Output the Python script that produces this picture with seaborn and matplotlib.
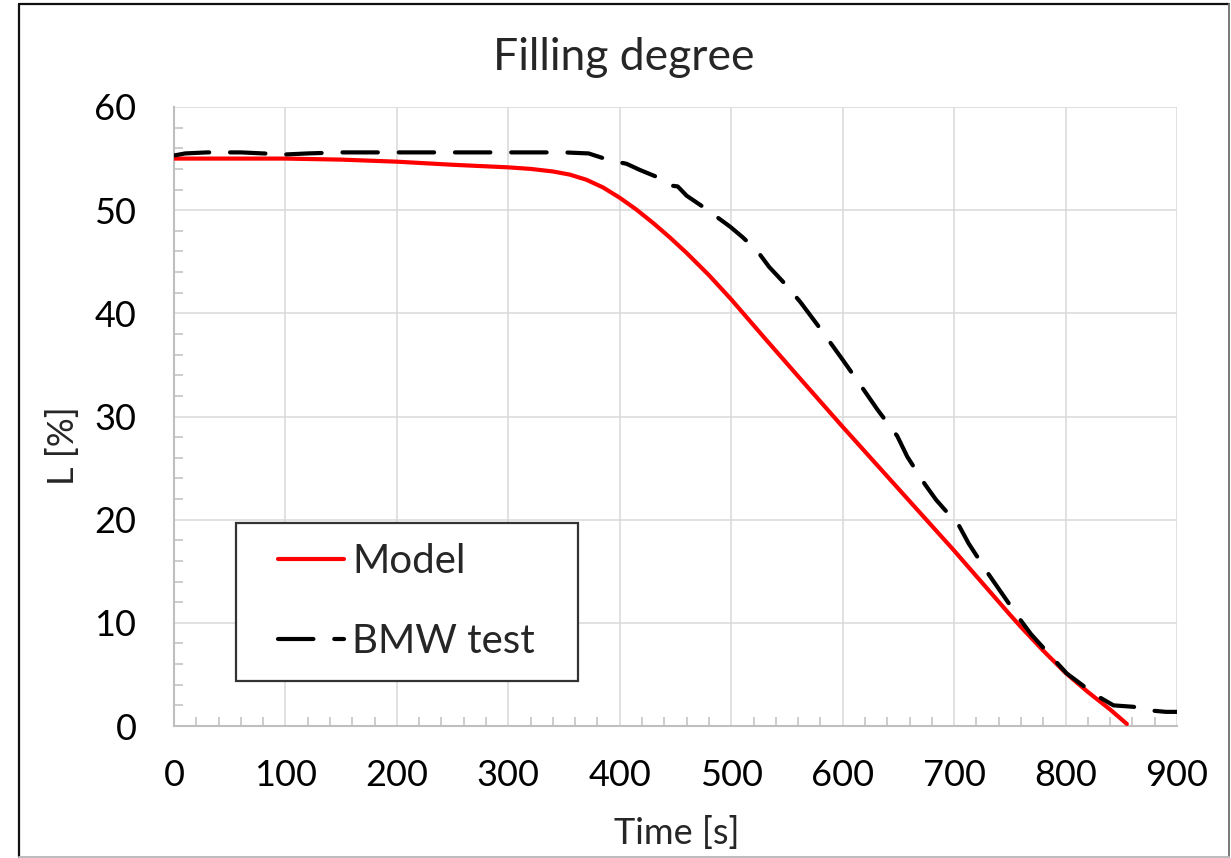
import numpy as np
import pandas as pd
import matplotlib
matplotlib.use("Agg")
import matplotlib.pyplot as plt
from matplotlib.patches import Rectangle
from matplotlib.lines import Line2D
from matplotlib.ticker import MultipleLocator
import seaborn as sns

# ---- data ----
model_t = [0, 50, 100, 150, 200, 250, 300, 320, 340, 355, 370, 385, 400, 415, 430, 445, 460, 480,
           500, 530, 560, 600, 650, 700, 750, 760, 780, 800, 820, 840, 855]
model_l = [55.0, 55.0, 55.0, 54.9, 54.7, 54.4, 54.15, 54.0, 53.75, 53.45, 52.95, 52.2, 51.2, 50.05,
           48.75, 47.35, 45.85, 43.7, 41.35, 37.6, 33.9, 29.0, 23.0, 17.0, 10.8, 9.6, 7.3, 5.15,
           3.3, 1.6, 0.2]

bmw_t = [0, 10, 30, 60, 100, 120, 150, 200, 250, 300, 350, 372, 392, 406, 418, 436, 445, 452,
         460, 475, 499, 510, 517, 523, 534, 547, 562, 580, 600, 615, 631, 649, 658, 674, 684,
         693, 700, 705, 713, 731, 740, 758, 769, 790, 801, 827, 843, 861, 874, 890, 900]
bmw_l = [55.3, 55.5, 55.6, 55.6, 55.4, 55.5, 55.6, 55.6, 55.6, 55.6, 55.6, 55.5, 54.8, 54.5,
         53.9, 53.1, 52.4, 52.3, 51.4, 50.3, 48.4, 47.4, 46.7, 46.1, 44.5, 43.0, 41.1, 38.5,
         35.5, 33.2, 30.7, 28.1, 26.1, 23.4, 21.9, 20.8, 20.3, 19.3, 17.7, 14.7, 13.3, 10.5,
         8.9, 6.4, 5.1, 3.0, 2.0, 1.86, 1.53, 1.37, 1.37]

title = "Filling degree"
xlabel = "Time [s]"
ylabel = "L [%]"
series_names = ["Model", "BMW test"]

# ---- style ----
sns.set_theme(style="white")
plt.rcParams['font.family'] = ['Lato', 'DejaVu Sans']

W, H, DPI = 1231, 858, 100
fig = plt.figure(figsize=(W / DPI, H / DPI), dpi=DPI)
ax_l, ax_r, ax_t, ax_b = 174, 1177, 107, 726
ax = fig.add_axes([ax_l / W, 1 - ax_b / H, (ax_r - ax_l) / W, (ax_b - ax_t) / H])

df_m = pd.DataFrame({"t": model_t, "L": model_l})
df_b = pd.DataFrame({"t": bmw_t, "L": bmw_l})

sns.lineplot(data=df_m, x="t", y="L", ax=ax, color="#ff0000", linewidth=3.0,
             solid_capstyle="round", solid_joinstyle="round", zorder=4)
sns.lineplot(data=df_b, x="t", y="L", ax=ax, color="#000000", linewidth=3.0,
             linestyle=(0, (8.5, 5.0)), dash_capstyle="round", dash_joinstyle="round", zorder=4)

ax.set_xlim(0, 900)
ax.set_ylim(0, 60)
ax.xaxis.set_major_locator(MultipleLocator(100))
ax.xaxis.set_minor_locator(MultipleLocator(20))
ax.yaxis.set_major_locator(MultipleLocator(10))
ax.yaxis.set_minor_locator(MultipleLocator(2))

ax.grid(True, which="major", color="#d9d9d9", linewidth=1.1, zorder=0)
ax.set_axisbelow(True)
for s in ["top", "right"]:
    ax.spines[s].set_visible(False)
for s in ["left", "bottom"]:
    ax.spines[s].set_color("#bfbfbf")
    ax.spines[s].set_linewidth(1.5)

ax.tick_params(which="major", length=0, labelsize=26, labelcolor="black")
ax.tick_params(axis="x", which="major", pad=24)
ax.tick_params(axis="y", which="major", pad=27)
ax.tick_params(which="minor", direction="in", length=6.5, width=1.1, color="#bfbfbf",
               bottom=True, left=True)

ax.set_xlabel(xlabel, fontsize=26)
ax.set_ylabel(ylabel, fontsize=26)
ax.xaxis.set_label_coords(0.501, (ax_b - 833) / (ax_b - ax_t))
ax.xaxis.label.set_va("center")
ax.yaxis.set_label_coords((63 - ax_l) / (ax_r - ax_l), (ax_b - 446) / (ax_b - ax_t))
ax.yaxis.label.set_va("center")

ax.set_title(title, fontsize=32, x=(624 - ax_l) / (ax_r - ax_l),
             y=(ax_b - 58) / (ax_b - ax_t), va="center", pad=0)

# legend frame + legend
lx0, lx1, ly0, ly1 = 235.7, 578, 522.7, 680.7
ax.add_patch(Rectangle(((lx0 - ax_l) / (ax_r - ax_l), (ax_b - ly1) / (ax_b - ax_t)),
                       (lx1 - lx0) / (ax_r - ax_l), (ly1 - ly0) / (ax_b - ax_t),
                       transform=ax.transAxes, facecolor="white", edgecolor="#333333",
                       linewidth=1.6, zorder=3))
handles = ax.get_lines()[:2]
leg = ax.legend(handles, series_names, loc="center",
                bbox_to_anchor=((406.5 - ax_l) / (ax_r - ax_l), (ax_b - 601.7) / (ax_b - ax_t)),
                frameon=False, fontsize=29, handlelength=1.65, handletextpad=0.2,
                labelspacing=1.08, borderpad=0)
leg.set_zorder(6)

# figure border
fig.add_artist(Line2D([19 / W, 19 / W], [1 - 857 / H, 1 - 4 / H], color="#111111", lw=1.6))
fig.add_artist(Line2D([19 / W, 1229 / W], [1 - 4 / H, 1 - 4 / H], color="#111111", lw=1.6))
fig.add_artist(Line2D([1229 / W, 1229 / W], [1 - 857 / H, 1 - 4 / H], color="#777777", lw=1.4))
fig.add_artist(Line2D([19 / W, 1229 / W], [1 - 857 / H, 1 - 857 / H], color="#bbbbbb", lw=1.4))

fig.savefig("out.png", dpi=DPI)
